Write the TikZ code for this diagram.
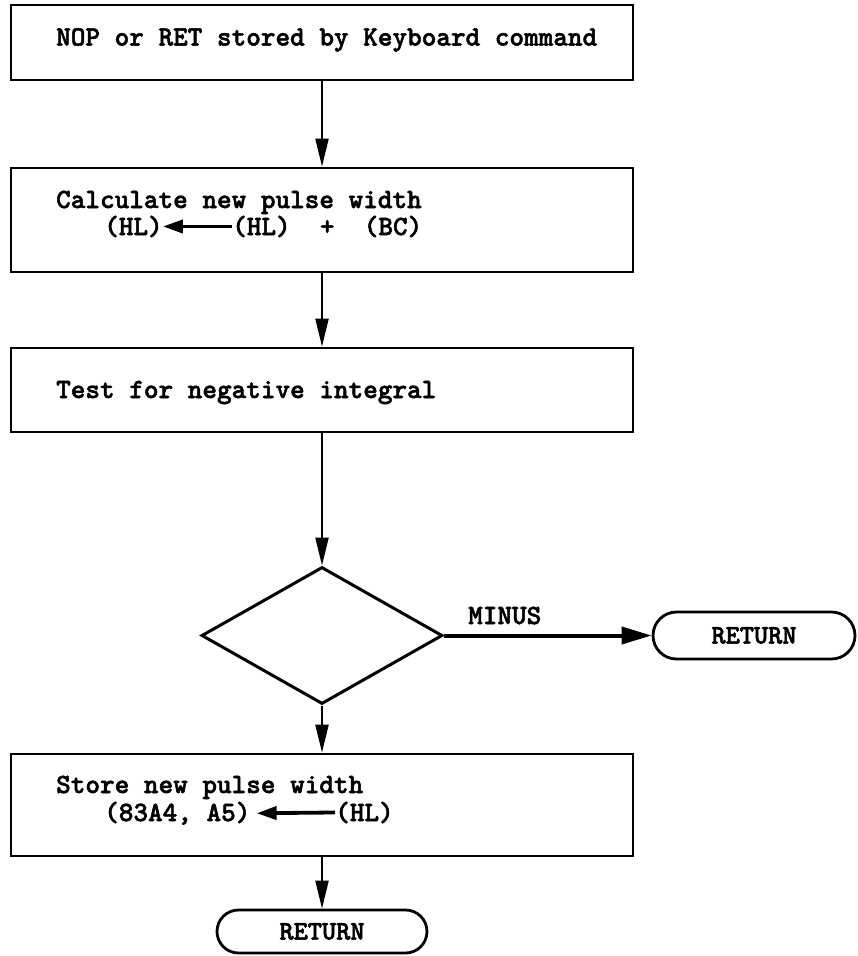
\documentclass[tikz,border=0pt]{standalone}
\usepackage{fontspec}
\newfontfamily\typed[FakeBold=1.8]{lmmonolt10-bold.otf}
\usetikzlibrary{arrows.meta,shapes.geometric,shapes.misc}
\tikzset{
  procbox/.style={draw, line width=2.8pt, minimum width=622pt, inner sep=0pt},
  decision/.style={draw, diamond, line width=3pt, minimum width=241pt,
    minimum height=137pt, inner sep=0pt},
  terminal/.style={draw, rounded rectangle, line width=2.8pt, inner sep=0pt,
    font=\typed\fontsize{27pt}{30pt}\selectfont},
  txt/.style={anchor=base west, inner sep=0pt,
    font=\typed\fontsize{27.85pt}{30pt}\selectfont},
  flow/.style={line width=2.2pt, -{Triangle[length=28pt,width=13pt]}},
  bigflow/.style={line width=4pt, -{Triangle[length=30pt,width=17pt]}},
  assign/.style={line width=3.8pt, -{Triangle[length=20pt,width=13pt]}},
}
\begin{document}
\begin{tikzpicture}[x=1pt,y=-1pt]
\useasboundingbox (0,0) rectangle (858,956);

% process boxes
\node[procbox, minimum height=75pt]  (b1) at (322,42.5) {};
\node[procbox, minimum height=104pt] (b2) at (322,220) {};
\node[procbox, minimum height=84pt]  (b3) at (322,390) {};
\node[procbox, minimum height=102pt] (b4) at (322,805) {};

% decision and terminals
\node[decision] (d) at (322,635.5) {};
\node[terminal, minimum width=202pt, minimum height=47pt] (r1) at (754,635.5) {RETURN};
\node[terminal, minimum width=210pt, minimum height=43pt] (r2) at (322,931.5) {RETURN};

% box texts
\node[txt] (t1) at (56,45.5) {NOP or RET stored by Keyboard command};
\node[txt] (t2) at (56,208) {Calculate new pulse width};
\node[txt] (t2a) at (104,235) {(HL)};
\node[txt] (t2b) at (232,235) {(HL)\ \ +\ \ (BC)};
\node[txt] (t3) at (56,398) {Test for negative integral};
\node[txt] (t4) at (56,793) {Store new pulse width};
\node[txt] (t4a) at (104,821) {(83A4, A5)};
\node[txt] (t4b) at (335,821) {(HL)};
\node[txt] (m) at (468,624) {MINUS};

% assignment arrows inside the boxes
\draw[assign] (t2b.west) -- (t2a.east);
\draw[assign] (t4b.west) -- ([xshift=6pt]t4a.east);

% flow lines
\draw[flow] (b1.south) -- (b2.north);
\draw[flow] (b2.south) -- (b3.north);
\draw[flow] (b3.south) -- (d.north);
\draw[flow] (d.south) -- (b4.north);
\draw[flow] (b4.south) -- (r2.north);
\draw[bigflow] (d.east) -- (r1.west);
\end{tikzpicture}
\end{document}
